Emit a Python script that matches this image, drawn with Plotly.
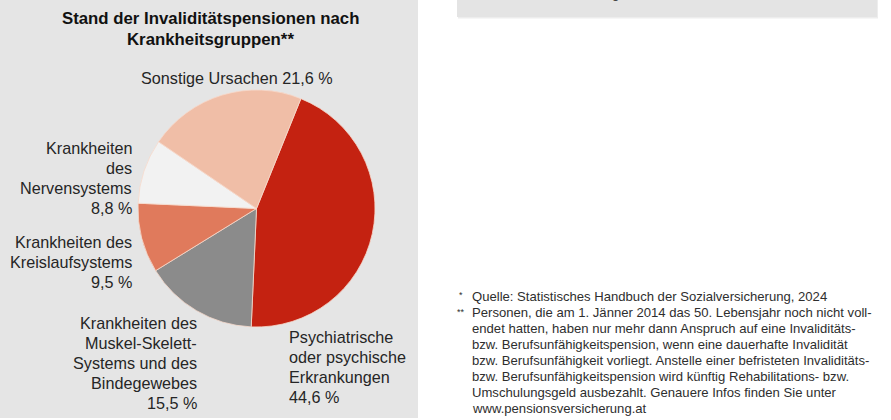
import plotly.graph_objects as go

W, H = 891, 420

# ---- data ----
categories = [
    "Psychiatrische oder psychische Erkrankungen",
    "Krankheiten des Muskel-Skelett-Systems und des Bindegewebes",
    "Krankheiten des Kreislaufsystems",
    "Krankheiten des Nervensystems",
    "Sonstige Ursachen",
]
values = [44.6, 15.5, 9.5, 8.8, 21.6]
colors = ["#C42211", "#8B8B8B", "#E07A5C", "#F2F2F2", "#F0BEA7"]

label_lines = [
    ["Psychiatrische", "oder psychische", "Erkrankungen", "44,6 %"],
    ["Krankheiten des", "Muskel-Skelett-", "Systems und des", "Bindegewebes", "15,5 %"],
    ["Krankheiten des", "Kreislaufsystems", "9,5 %"],
    ["Krankheiten", "des", "Nervensystems", "8,8 %"],
    ["Sonstige Ursachen 21,6 %"],
]
title_lines = ["Stand der Invaliditätspensionen nach", "Krankheitsgruppen**"]
footnote_marks = ["*", "**"]
footnote_lines = [
    ["Quelle: Statistisches Handbuch der Sozialversicherung, 2024"],
    ["Personen, die am 1. Jänner 2014 das 50. Lebensjahr noch nicht voll-",
     "endet hatten, haben nur mehr dann Anspruch auf eine Invaliditäts-",
     "bzw. Berufsunfähigkeitspension, wenn eine dauerhafte Invalidität",
     "bzw. Berufsunfähigkeit vorliegt. Anstelle einer befristeten Invaliditäts-",
     "bzw. Berufsunfähigkeitspension wird künftig Rehabilitations- bzw.",
     "Umschulungsgeld ausbezahlt. Genauere Infos finden Sie unter",
     "www.pensionsversicherung.at"],
]
cut_text = "g"


def px(x):
    return x / W


def py(y):
    return 1 - y / H


cx, cy, r = 256.5, 208.5, 118.5

fig = go.Figure()
fig.add_trace(go.Pie(
    labels=categories,
    values=values,
    sort=False,
    direction="clockwise",
    rotation=22,
    marker=dict(colors=colors, line=dict(color="#F6D9CC", width=0.8)),
    textinfo="none",
    hoverinfo="label+percent",
    showlegend=False,
    domain=dict(x=[px(cx - r), px(cx + r)], y=[py(cy + r), py(cy - r)]),
))

FAM = "Liberation Sans, Arial, sans-serif"
label_font = dict(family=FAM, size=16.2, color="#262626")
# (x, first-line y, xanchor) for each label
label_pos = [
    (287, 337, "left"),
    (199, 323, "right"),
    (134, 242, "right"),
    (134, 148, "right"),
    (237, 78, "center"),
]
LS = 20
annotations = []
for lines, (x, y0, xa) in zip(label_lines, label_pos):
    for i, t in enumerate(lines):
        annotations.append(dict(x=px(x), y=py(y0 + i * LS), xref="paper", yref="paper", text=t,
                                showarrow=False, xanchor=xa, yanchor="middle",
                                font=label_font))

for i, t in enumerate(title_lines):
    annotations.append(dict(x=px(210), y=py(19 + i * 20), xref="paper", yref="paper",
                            text="<b>" + t + "</b>", showarrow=False, xanchor="center",
                            yanchor="middle", font=dict(family=FAM, size=16.8, color="#111111")))

fn_font = dict(family=FAM, size=13.1, color="#2E2E2E")
mark_pos = [(457, 295), (455, 312)]
fn_start = [296, 312]
for mark, (mx, my) in zip(footnote_marks, mark_pos):
    annotations.append(dict(x=px(mx), y=py(my), xref="paper", yref="paper", text=mark,
                            showarrow=False, xanchor="left", yanchor="middle",
                            font=dict(fn_font, size=9)))
for lines, y0 in zip(footnote_lines, fn_start):
    for i, t in enumerate(lines):
        annotations.append(dict(x=px(470), y=py(y0 + i * 16), xref="paper", yref="paper", text=t,
                                showarrow=False, xanchor="left", yanchor="middle", font=fn_font))

# cut-off text in top-right box
annotations.append(dict(x=px(615), y=py(-7), xref="paper", yref="paper", text=cut_text,
                        showarrow=False, xanchor="center", yanchor="middle", font=fn_font))

shapes = [
    dict(type="rect", xref="paper", yref="paper", x0=0, x1=px(418), y0=py(418), y1=1,
         fillcolor="#E5E5E5", line=dict(width=0), layer="below"),
    dict(type="rect", xref="paper", yref="paper", x0=px(458), x1=px(878), y0=py(18.5), y1=1,
         fillcolor="#EDEDED", line=dict(width=0), layer="below"),
    dict(type="rect", xref="paper", yref="paper", x0=px(457), x1=px(877), y0=py(17), y1=1,
         fillcolor="#E4E4E4", line=dict(width=0), layer="below"),
]

fig.update_layout(
    width=W, height=H,
    margin=dict(l=0, r=0, t=0, b=0),
    paper_bgcolor="white",
    plot_bgcolor="white",
    annotations=annotations,
    shapes=shapes,
)

fig.write_html("out.html", config={"displayModeBar": False},
               post_script="document.body.style.margin='0';document.body.style.overflow='hidden';")
